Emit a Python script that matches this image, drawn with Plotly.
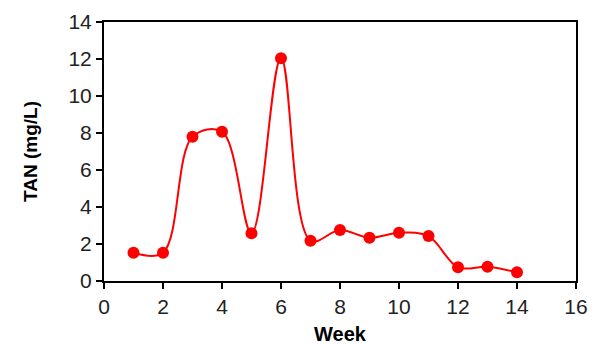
import plotly.graph_objects as go

weeks = [1, 2, 3, 4, 5, 6, 7, 8, 9, 10, 11, 12, 13, 14]
tan = [1.53, 1.53, 7.8, 8.07, 2.58, 12.04, 2.18, 2.76, 2.34, 2.61, 2.43, 0.74, 0.77, 0.47]

fig = go.Figure(go.Scatter(
    x=weeks, y=tan, mode="lines+markers",
    line=dict(color="#ff0000", width=2, shape="spline", smoothing=1.0),
    marker=dict(color="#ff0000", size=12),
))

axis_common = dict(
    showgrid=False, zeroline=False, showline=True, linecolor="black", linewidth=2,
    mirror=True, ticks="outside", ticklen=6, tickwidth=2, tickcolor="black",
    automargin=False,
    tickfont=dict(family="Liberation Sans, Arial", size=21, color="#222"),
)
fig.update_layout(
    width=598, height=345,
    margin=dict(l=104, r=22, t=22, b=64),
    paper_bgcolor="white", plot_bgcolor="white",
    showlegend=False,
    xaxis=dict(range=[0, 16], dtick=2,
               title=dict(text="<b>Week</b>", font=dict(family="Liberation Sans, Arial", size=20, color="black"), standoff=14),
               **axis_common),
    yaxis=dict(range=[0, 14], dtick=2,
               title=dict(text="<b>TAN (mg/L)</b>", font=dict(family="Liberation Sans, Arial", size=19, color="black"), standoff=26),
               **axis_common),
)
fig.write_html("out.html")
